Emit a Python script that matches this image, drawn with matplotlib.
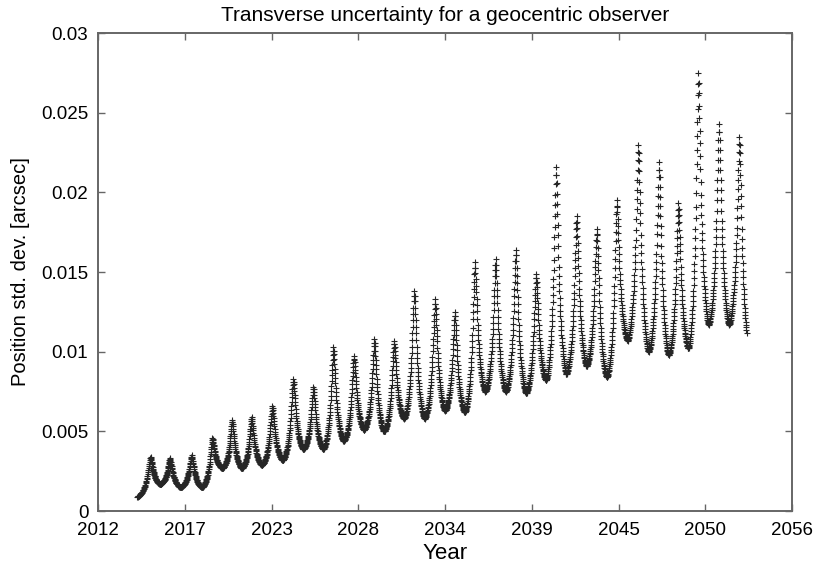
import numpy as np
import matplotlib
matplotlib.use('Agg')
import matplotlib.pyplot as plt

# Dates (decimal years) and heights of each uncertainty spike
peak_years = [2015.34, 2016.56, 2017.94, 2019.25, 2020.51, 2021.74, 2023.05, 2024.38,
              2025.65, 2026.92, 2028.23, 2029.52, 2030.77, 2032.05, 2033.37, 2034.63,
              2035.90, 2037.21, 2038.50, 2039.77, 2041.04, 2042.35, 2043.62, 2044.89,
              2046.26, 2047.57, 2048.79, 2050.06, 2051.37, 2052.66]
peak_values = [0.0034, 0.0033, 0.0035, 0.0046, 0.0057, 0.0059, 0.0066, 0.0083,
               0.0078, 0.0103, 0.0097, 0.0108, 0.0107, 0.0138, 0.0133, 0.0125,
               0.0156, 0.0158, 0.0164, 0.0149, 0.0216, 0.0185, 0.0177, 0.0195,
               0.0230, 0.0219, 0.0193, 0.0275, 0.0243, 0.0235]
# Minimum between consecutive spikes
trough_values = [0.0017, 0.0015, 0.0015, 0.0027, 0.0027, 0.0029, 0.0032, 0.0039,
                 0.0039, 0.0044, 0.0051, 0.0050, 0.0058, 0.0058, 0.0063, 0.0062,
                 0.0075, 0.0075, 0.0074, 0.0082, 0.0086, 0.0091, 0.0084, 0.0107,
                 0.0100, 0.0098, 0.0102, 0.0117, 0.0117]
start_year, start_value = 2014.49, 0.0009
end_year, end_value = 2053.12, 0.0112

# Relative height of the samples stepping away from a spike top down to the low
spike_shape = [0.96, 0.92, 0.87, 0.82, 0.77, 0.72, 0.67, 0.62, 0.565, 0.515,
               0.475, 0.435, 0.40, 0.365, 0.335, 0.305, 0.28, 0.255, 0.232, 0.21,
               0.19, 0.172, 0.155, 0.14, 0.125, 0.11, 0.097, 0.085, 0.073, 0.062,
               0.052, 0.043, 0.035, 0.027, 0.02, 0.014, 0.009, 0.005, 0.002, 0.0]

xtick_labels = ['2012', '2017', '2023', '2028', '2034', '2039', '2045', '2050', '2056']
ytick_values = [0, 0.005, 0.01, 0.015, 0.02, 0.025, 0.03]
ytick_labels = ['0', '0.005', '0.01', '0.015', '0.02', '0.025', '0.03']


def branch(t_top, t_low, top, low, shape, n_steps=None):
    "Samples stepping from a spike top (excluded) towards a low point"
    shape = np.asarray(shape)
    n = n_steps or len(shape)
    t = t_top + (t_low - t_top) * np.arange(1, len(shape) + 1) / n
    v = low + (top - low) * shape
    return t, v


def build_series():
    "Stitch rising and falling branches of every spike together"
    n = len(spike_shape)
    mids = [(a + b) / 2 for a, b in zip(peak_years[:-1], peak_years[1:])]
    lefts = [start_year] + mids
    lows_left = [start_value] + trough_values
    ts, vs = [], []
    for i, (py, pv) in enumerate(zip(peak_years, peak_values)):
        # rising side, mirrored from the falling shape
        t, v = branch(py, lefts[i], pv, lows_left[i], spike_shape)
        if i > 0:
            t, v = t[:-1], v[:-1]  # low already drawn by the previous falling side
        ts.append(t[::-1])
        vs.append(v[::-1])
        ts.append([py])
        vs.append([pv])
        if i < len(peak_years) - 1:
            t, v = branch(py, mids[i], pv, trough_values[i], spike_shape)
        else:
            # the record stops partway down the last spike
            half = py - mids[-1]
            m = int(round(n * (end_year - py) / half))
            h = spike_shape[m - 1]
            low = (end_value - pv * h) / (1 - h)
            t, v = branch(py, py + half, pv, low, spike_shape[:m], n_steps=n)
        ts.append(t)
        vs.append(v)
    return np.concatenate(ts), np.concatenate(vs)


years, sigma = build_series()

plt.rcParams['font.family'] = ['Liberation Sans', 'DejaVu Sans']
fig = plt.figure(figsize=(8.14, 5.70), dpi=100)
ax = fig.add_axes([0.1204, 0.1035, 0.8526, 0.8386])

ax.plot(years, sigma, '+', color='0.15', markersize=5, markeredgewidth=0.8)

ax.set_xlim(2012, 2056)
ax.set_ylim(0, 0.03)
ax.set_xticks(np.linspace(2012, 2056, len(xtick_labels)))
ax.set_xticklabels(xtick_labels)
ax.set_yticks(ytick_values)
ax.set_yticklabels(ytick_labels)
ax.tick_params(direction='in', length=5, width=1, top=True, right=True,
               labelsize=13.5, colors='0.4', labelcolor='black')
ax.tick_params(axis='y', pad=7)
ax.tick_params(axis='x', pad=8)
for side in ax.spines.values():
    side.set_color('0.4')
    side.set_linewidth(1.4)

ax.set_title('Transverse uncertainty for a geocentric observer', fontsize=15, pad=9)
ax.set_xlabel('Year', fontsize=16, labelpad=3)
ax.set_ylabel('Position std. dev. [arcsec]', fontsize=14.5, labelpad=8)

fig.savefig('out.png', dpi=100)
